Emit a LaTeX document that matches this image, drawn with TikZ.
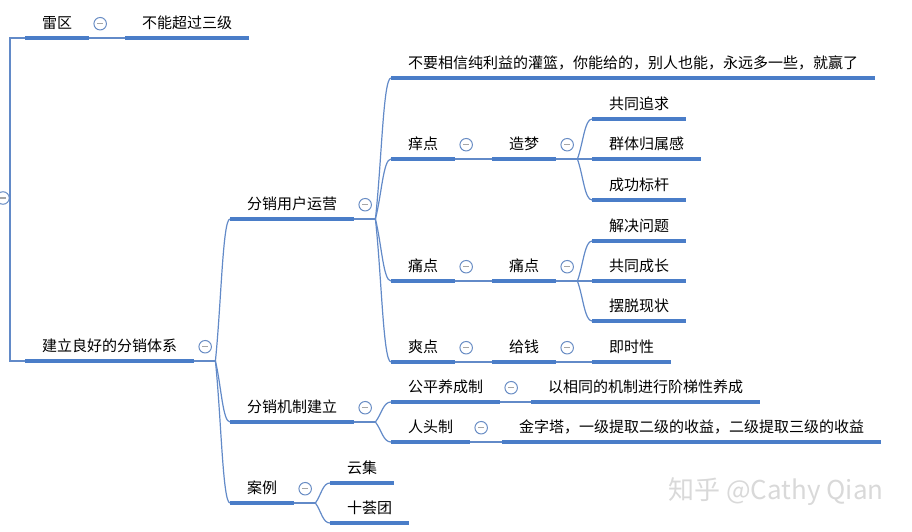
\documentclass[tikz,border=0pt]{standalone}
\usepackage{fontspec}
\setmainfont{Noto Sans CJK SC}
\usetikzlibrary{positioning,calc}

\definecolor{barblue}{RGB}{74,125,200}
\definecolor{linkblue}{RGB}{98,138,200}
\definecolor{foldblue}{RGB}{104,140,196}

\tikzset{
  topic/.style={anchor=south west, inner xsep=17pt, inner ysep=0pt,
    text height=14pt, text depth=9pt, font=\fontsize{15}{16}\selectfont},
  bar/.style={draw=barblue, line width=3.6pt},
  link/.style={draw=linkblue, line width=1.2pt},
  fold/.style={circle, draw=foldblue, fill=white, line width=1pt,
    minimum size=12.5pt, inner sep=0pt,
    path picture={\draw[gray!70, line width=1.1pt]
      ([xshift=-2.8pt]path picture bounding box.center) --
      ([xshift=2.8pt]path picture bounding box.center);}},
}

\begin{document}
\begin{tikzpicture}[x=1pt, y=-1pt]
  \useasboundingbox (0,0) rectangle (912,532);

  % topics
  \node[topic] (lei)        at (25,38)   {雷区};
  \node[topic] (lei-limit)  at (125,38)  {不能超过三级};
  \node[topic] (jianli)     at (25,361)  {建立良好的分销体系};
  \node[topic] (yunying)    at (230,219) {分销用户运营};
  \node[topic] (jizhi)      at (230,422) {分销机制建立};
  \node[topic] (anli)       at (230,503) {案例};
  \node[topic] (buyao)      at (391,78)  {不要相信纯利益的灌篮，你能给的，别人也能，永远多一些，就赢了};
  \node[topic] (yang)       at (391,159) {痒点};
  \node[topic] (zaomeng)    at (492,159) {造梦};
  \node[topic] (zhuiqiu)    at (592,119) {共同追求};
  \node[topic] (guishu)     at (592,159) {群体归属感};
  \node[topic] (biaogan)    at (592,200) {成功标杆};
  \node[topic] (tong)       at (391,281) {痛点};
  \node[topic] (tong2)      at (492,281) {痛点};
  \node[topic] (jiejue)     at (592,241) {解决问题};
  \node[topic] (chengzhang) at (592,281) {共同成长};
  \node[topic] (baituo)     at (592,321) {摆脱现状};
  \node[topic] (shuang)     at (391,362) {爽点};
  \node[topic] (geiqian)    at (492,362) {给钱};
  \node[topic] (jishi)      at (592,362) {即时性};
  \node[topic] (gongping)   at (391,402) {公平养成制};
  \node[topic] (yangcheng)  at (531,402) {以相同的机制进行阶梯性养成};
  \node[topic] (rentou)     at (391,442) {人头制};
  \node[topic] (jinzita)    at (502,442) {金字塔，一级提取二级的收益，二级提取三级的收益};
  \node[topic] (yunji)      at (330,483) {云集};
  \node[topic] (shihui)     at (330,523) {十荟团};

  % root
  \node[fold] (root) at (3,198) {};
  \coordinate (root-b) at (10,198);
  \draw[link] (root) -- (root-b);
  \draw[link] (root-b) |- (lei.south west);
  \draw[link] (root-b) |- (jianli.south west);

  % straight links
  \draw[link] (lei.south east) -- (lei-limit.south west);
  \draw[link] (yang.south east) -- (zaomeng.south west);
  \draw[link] (tong.south east) -- (tong2.south west);
  \draw[link] (shuang.south east) -- (geiqian.south west) -- (jishi.south west);
  \draw[link] (gongping.south east) -- (yangcheng.south west);
  \draw[link] (rentou.south east) -- (jinzita.south west);

  % branching links
  \foreach \p/\kids in {jianli/{yunying,jizhi,anli},
                        yunying/{buyao,yang,tong,shuang},
                        zaomeng/{zhuiqiu,guishu,biaogan},
                        tong2/{jiejue,chengzhang,baituo},
                        jizhi/{gongping,rentou},
                        anli/{yunji,shihui}} {
    \coordinate (\p-b) at ([xshift=21pt]\p.south east);
    \draw[link] (\p.south east) -- (\p-b);
    \foreach \c in \kids
      \draw[link] (\p-b) .. controls ($(\p-b)!0.4!(\c.south west)$)
        and ($(\p-b |- \c.south west)!0.5!(\c.south west)$) .. (\c.south west);
  }

  % bars
  \foreach \n in {lei,lei-limit,jianli,yunying,jizhi,anli,buyao,yang,zaomeng,
                  zhuiqiu,guishu,biaogan,tong,tong2,jiejue,chengzhang,baituo,
                  shuang,geiqian,jishi,gongping,yangcheng,rentou,jinzita,yunji,shihui}
    \draw[bar] (\n.south west) -- (\n.south east);

  % fold marks
  \foreach \n in {lei,jianli,yunying,jizhi,anli,yang,zaomeng,tong,tong2,
                  shuang,geiqian,gongping,rentou}
    \node[fold, above right=9.5pt and 6pt of \n.south east] (\n-fold) {};

  \node[text=gray!30, font=\fontsize{26}{28}\selectfont] (mark) at (776,492) {知乎 @Cathy Qian};
\end{tikzpicture}
\end{document}
